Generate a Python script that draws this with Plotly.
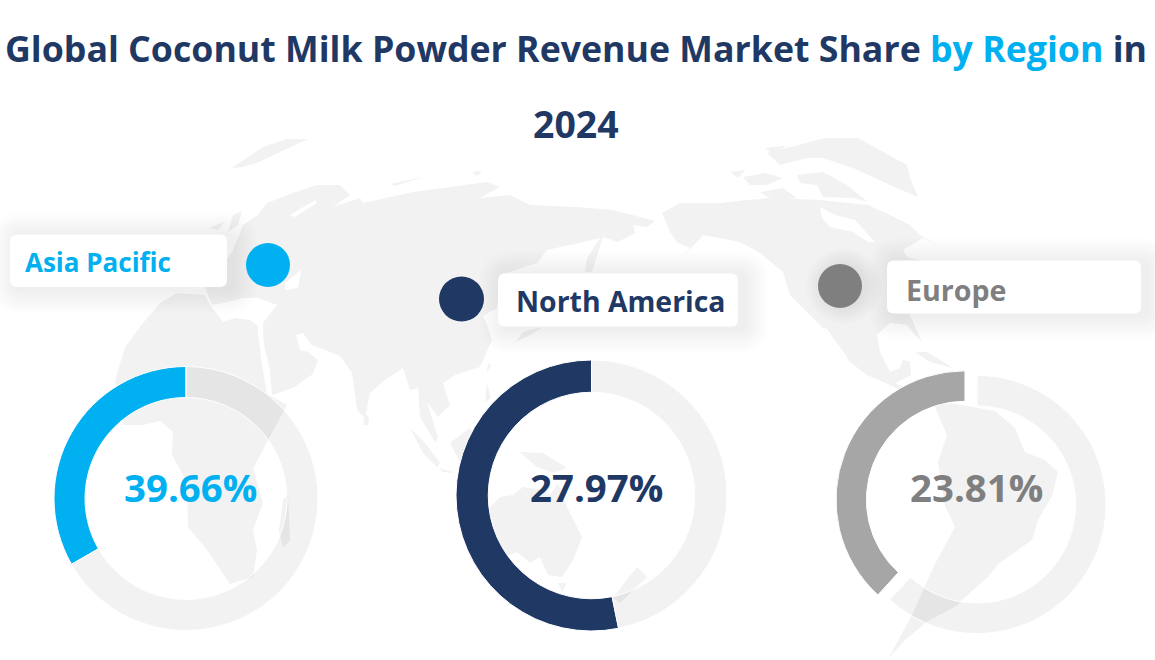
import plotly.graph_objects as go

# ---------- data ----------
regions = ["Asia Pacific", "North America", "Europe"]
share_labels = ["39.66%", "27.97%", "23.81%"]
drawn_share = [33.3, 53.2, 38.2]          # share of each ring that is coloured, as drawn
ring_colors = ["#00B0F0", "#1F3864", "#A6A6A6"]
text_colors = ["#00B0F0", "#1F3864", "#7F7F7F"]
ring_pull = [0, 0, 0.1]

# ---------- layout constants (pixels) ----------
W, H = 1155, 660
FONT = "Open Sans"
REST = "rgba(0,0,0,0.05)"
ring_geo = [(186, 498.5, 132, 0.765), (591.5, 495.5, 135.5, 0.762), (977, 504.5, 129, 0.764)]
cards = [(10, 234.5, 227, 287), (498, 273.5, 738, 326.5), (887, 260.5, 1141, 313.5)]
dots = [(268, 265, 22), (461.5, 299, 22.5), (840, 286, 22)]
dot_shadow = [0, 0, 1]
card_text = [(22.5, 262, 26), (514, 300.5, 28.4), (904, 289.5, 28.6)]
pct_text = [(190.5, 487), (596.5, 487), (976.5, 487)]


def px(x):
    return x / W


def py(y):
    return 1 - y / H


def path(points):
    return "M" + " L".join(f"{px(x):.5f},{py(y):.5f}" for x, y in points) + " Z"


def rounded(x0, y0, x1, y1, r):
    def p(x, y):
        return f"{px(x):.5f},{py(y):.5f}"
    return (f"M{p(x0 + r, y0)} L{p(x1 - r, y0)} Q{p(x1, y0)} {p(x1, y0 + r)} "
            f"L{p(x1, y1 - r)} Q{p(x1, y1)} {p(x1 - r, y1)} L{p(x0 + r, y1)} "
            f"Q{p(x0, y1)} {p(x0, y1 - r)} L{p(x0, y0 + r)} Q{p(x0, y0)} {p(x0 + r, y0)} Z")


# faint world map behind the chart: a decorative backdrop traced by hand
land = [
    # Eurasia
    [(205, 287), (212, 305), (227, 302), (243, 298), (258, 298), (277, 305), (263, 323), (263, 328),
     (264, 345), (270, 370), (272, 395), (293, 388), (313, 374), (318, 360), (308, 352), (300, 350),
     (296, 335), (303, 333), (312, 345), (325, 350), (340, 356), (352, 373), (357, 410), (365, 418),
     (370, 393), (385, 380), (403, 368), (410, 390), (418, 388), (420, 417), (435, 442), (438, 438),
     (427, 402), (438, 417), (450, 405), (443, 383), (455, 375), (480, 367), (492, 340), (487, 325),
     (483, 316), (497, 308), (498, 300), (500, 275), (537, 263), (547, 250), (583, 242), (600, 238),
     (587, 258), (585, 272), (592, 272), (603, 237), (618, 242), (635, 233), (633, 225), (647, 227),
     (655, 221), (640, 217), (613, 210), (577, 207), (530, 205), (510, 195), (480, 198), (500, 187),
     (487, 182), (413, 192), (363, 203), (360, 198), (333, 207), (350, 195), (340, 185), (317, 185),
     (293, 193), (267, 203), (258, 215), (243, 225), (233, 250), (225, 262), (205, 270)],
    # Africa
    [(177, 293), (160, 303), (143, 323), (125, 347), (115, 381), (123, 425), (143, 425), (160, 421),
     (173, 432), (172, 455), (187, 482), (188, 527), (207, 550), (230, 584), (253, 577), (257, 550),
     (253, 530), (263, 503), (253, 469), (267, 442), (287, 405), (267, 394), (262, 365), (258, 333),
     (258, 326), (250, 320), (235, 318), (223, 322), (210, 305), (205, 295)],
    # North America
    [(662, 213), (680, 203), (720, 203), (747, 200), (773, 198), (820, 200), (868, 205), (890, 215),
     (910, 225), (920, 235), (940, 247), (923, 238), (903, 250), (907, 257), (925, 262), (915, 300),
     (910, 315), (922, 342), (915, 335), (907, 325), (890, 323), (877, 335), (880, 352), (890, 372),
     (900, 368), (903, 360), (910, 362), (911, 375), (895, 383), (925, 397), (922, 402), (890, 385),
     (867, 375), (850, 362), (820, 325), (790, 295), (783, 272), (760, 253), (740, 242), (703, 235),
     (682, 258), (690, 248), (677, 242), (670, 232)],
    # South America
    [(932, 401), (962, 405), (995, 411), (1015, 428), (1025, 452), (1045, 460), (1058, 472),
     (1052, 496), (1038, 520), (1032, 540), (998, 564), (988, 577), (962, 600), (958, 605),
     (928, 621), (905, 640), (888, 659), (912, 615), (935, 564), (955, 527), (945, 506), (938, 462),
     (947, 435)],
    # Australia
    [(490, 507), (500, 497), (513, 495), (523, 487), (543, 490), (550, 495), (558, 483), (567, 507),
     (582, 537), (573, 560), (562, 577), (548, 575), (540, 557), (530, 563), (517, 552), (497, 560),
     (490, 535)],
    # Greenland, both pieces
    [(767, 153), (810, 142), (825, 138), (858, 138), (907, 165), (910, 178), (918, 197), (890, 185),
     (873, 177), (853, 168), (823, 158), (807, 158), (780, 165)],
    [(232, 168), (263, 147), (287, 139), (308, 139), (280, 152), (257, 163), (243, 167)],
    # Arctic Canada islands
    [(797, 175), (823, 172), (847, 185), (868, 202), (853, 198), (823, 197), (817, 185), (800, 183)],
    [(743, 177), (765, 173), (783, 178), (767, 185), (750, 185)],
    [(760, 192), (783, 188), (797, 198), (773, 200)],
    [(730, 172), (745, 170), (738, 178)],
    [(765, 148), (785, 146), (775, 156)],
    # Smaller islands
    [(283, 500), (288, 495), (290, 540), (283, 548), (279, 530)],
    [(520, 452), (543, 453), (567, 468), (553, 473), (537, 467)],
    [(410, 428), (425, 443), (440, 463), (437, 467), (423, 453)],
    [(440, 468), (455, 473), (442, 472)],
    [(450, 443), (470, 428), (480, 449), (460, 462)],
    [(487, 383), (491, 398), (485, 402)],
    [(488, 363), (491, 366), (487, 372)],
    [(516, 342), (523, 332), (543, 327), (528, 336)],
    [(365, 413), (369, 418), (368, 425), (363, 425)],
    [(637, 567), (647, 577), (620, 603), (613, 598)],
    [(558, 583), (567, 583), (562, 592)],
    [(210, 228), (225, 221), (218, 230)],
    [(233, 215), (242, 211), (238, 225), (228, 232)],
    [(390, 184), (423, 177), (395, 186)],
    [(472, 172), (482, 171), (477, 176)],
    [(915, 352), (927, 352), (953, 368), (930, 362)],
]
# seas cut out of the land
water = [
    [(290, 215), (315, 200), (317, 203), (295, 217)],
    [(285, 283), (301, 270), (298, 288), (285, 290)],
    [(820, 207), (835, 215), (855, 220), (875, 242), (868, 242), (853, 232), (830, 227), (822, 218)],
    [(823, 328), (826, 328), (848, 358), (845, 358)],
]

shapes = [dict(type="path", xref="paper", yref="paper", path=path(poly), fillcolor="#F2F2F2",
               line=dict(width=0), layer="below") for poly in land]
shapes += [dict(type="path", xref="paper", yref="paper", path=path(poly), fillcolor="#FFFFFF",
                line=dict(width=0), layer="below") for poly in water]

# soft shadows, then cards and dots
for x0, y0, x1, y1 in cards:
    for grow in range(24, 0, -3):
        shapes.append(dict(type="path", xref="paper", yref="paper",
                           path=rounded(x0 - grow + 6, y0 - grow + 2, x1 + grow + 6, y1 + grow + 2, 6 + grow),
                           fillcolor="rgba(0,0,0,0.007)", line=dict(width=0), layer="below"))
    shapes.append(dict(type="path", xref="paper", yref="paper", path=rounded(x0, y0, x1, y1, 7),
                       fillcolor="#FFFFFF", line=dict(width=0), layer="below"))

for (cx, cy, r), color, shadow in zip(dots, text_colors, dot_shadow):
    if shadow:
        for grow in range(16, 0, -3):
            shapes.append(dict(type="circle", xref="paper", yref="paper",
                               x0=px(cx - r - grow + 4), x1=px(cx + r + grow + 4),
                               y0=py(cy + r + grow), y1=py(cy - r - grow),
                               fillcolor="rgba(0,0,0,0.012)", line=dict(width=0), layer="below"))
    shapes.append(dict(type="circle", xref="paper", yref="paper",
                       x0=px(cx - r), x1=px(cx + r), y0=py(cy + r), y1=py(cy - r),
                       fillcolor=color, line=dict(width=0), layer="below"))

fig = go.Figure()
for region, share, color, pull, (cx, cy, R, hole) in zip(regions, drawn_share, ring_colors, ring_pull, ring_geo):
    half = R * (1 + max(pull, 0))
    fig.add_trace(go.Pie(
        values=[share, 100 - share],
        labels=[region, "Rest"],
        hole=hole,
        sort=False,
        direction="clockwise",
        rotation=-share * 3.6,
        pull=[pull, 0],
        textinfo="none",
        hoverinfo="label+percent",
        marker=dict(colors=[color, REST], line=dict(color="#FFFFFF", width=1)),
        domain=dict(x=[px(cx - half), px(cx + half)], y=[py(cy + half), py(cy - half)]),
        showlegend=False,
    ))

annotations = [
    dict(text="<b>2024</b>", x=px(576), y=py(124), xref="paper", yref="paper", showarrow=False,
         xanchor="center", yanchor="middle", font=dict(family=FONT, size=37.4, color="#1F3864"))
]
for region, (x, y, size), color in zip(regions, card_text, text_colors):
    annotations.append(dict(text=f"<b>{region}</b>", x=px(x), y=py(y), xref="paper", yref="paper",
                            showarrow=False, xanchor="left", yanchor="middle",
                            font=dict(family=FONT, size=size, color=color)))
for label, (x, y), color in zip(share_labels, pct_text, text_colors):
    annotations.append(dict(text=f"<b>{label}</b>", x=px(x), y=py(y), xref="paper", yref="paper",
                            showarrow=False, xanchor="center", yanchor="middle",
                            font=dict(family=FONT, size=38.4, color=color)))

fig.update_layout(
    width=W, height=H, margin=dict(l=0, r=0, t=0, b=0),
    paper_bgcolor="#FFFFFF", plot_bgcolor="#FFFFFF",
    title=dict(
        text='<b>Global Coconut Milk Powder Revenue Market Share '
             '<span style="color:#00B0F0">by Region</span> in</b>',
        x=px(576), y=py(50), xanchor="center", yanchor="middle", xref="paper", yref="paper",
        font=dict(family=FONT, size=35.7, color="#1F3864"),
    ),
    shapes=shapes,
    annotations=annotations,
)

fig.write_html("out.html", config={"displayModeBar": False},
               post_script="document.body.style.margin='0';document.documentElement.style.overflow='hidden';")
